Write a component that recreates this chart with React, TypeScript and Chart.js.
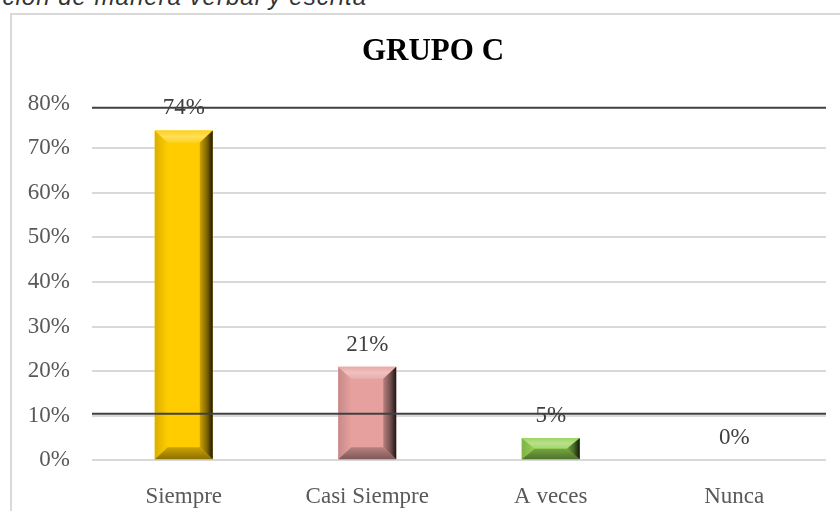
import React, { useEffect, useRef } from "react";
import { Chart, registerables } from "chart.js";
Chart.register(...registerables);

const categories = ["Siempre", "Casi Siempre", "A veces", "Nunca"];
const values = [0.74, 0.21, 0.05, 0];
const barColors = ["#FFCC00", "#E6A09E", "#92D050", "#A5A5A5"];
const yMin = 0;
const yMax = 0.8;
const yStep = 0.1;
const overlayLines = [0.791, 0.1045];
const titleText = "GRUPO C";
const captionText = "ción de manera verbal y escrita";

const SERIF = "'Liberation Serif', 'Times New Roman', serif";

function hexToRgb(h: string) {
  const n = parseInt(h.slice(1), 16);
  return [(n >> 16) & 255, (n >> 8) & 255, n & 255];
}
function mix(h: string, target: number, t: number) {
  const c = hexToRgb(h).map((v) => Math.round(v + (target - v) * t));
  return `rgb(${c[0]},${c[1]},${c[2]})`;
}

const bevelPlugin = {
  id: "bevel",
  afterDatasetsDraw(chart: any) {
    const ctx = chart.ctx;
    const meta = chart.getDatasetMeta(0);
    meta.data.forEach((el: any, i: number) => {
      const { x, y, base, width } = el.getProps(["x", "y", "base", "width"], true);
      const l = x - width / 2;
      const r = x + width / 2;
      const t = Math.min(y, base);
      const b = Math.max(y, base);
      const h = b - t;
      if (h <= 0.5) return;
      const col = barColors[i % barColors.length];
      const bv = Math.min(12, h / 2);
      const bh = Math.min(13, width / 2);
      ctx.save();
      // left face
      ctx.beginPath();
      ctx.moveTo(l, t);
      ctx.lineTo(l + bh, t + bv);
      ctx.lineTo(l + bh, b - bv);
      ctx.lineTo(l, b);
      ctx.closePath();
      let g = ctx.createLinearGradient(l, 0, l + bh, 0);
      g.addColorStop(0, mix(col, 0, 0.14));
      g.addColorStop(1, col);
      ctx.fillStyle = g;
      ctx.fill();
      // top face
      ctx.beginPath();
      ctx.moveTo(l, t);
      ctx.lineTo(r, t);
      ctx.lineTo(r - bh, t + bv);
      ctx.lineTo(l + bh, t + bv);
      ctx.closePath();
      g = ctx.createLinearGradient(0, t, 0, t + bv);
      g.addColorStop(0, mix(col, 255, 0.1));
      g.addColorStop(0.5, mix(col, 255, 0.35));
      g.addColorStop(1, mix(col, 255, 0.15));
      ctx.fillStyle = g;
      ctx.fill();
      // bottom face
      ctx.beginPath();
      ctx.moveTo(l, b);
      ctx.lineTo(r, b);
      ctx.lineTo(r - bh, b - bv);
      ctx.lineTo(l + bh, b - bv);
      ctx.closePath();
      g = ctx.createLinearGradient(0, b - bv, 0, b);
      g.addColorStop(0, mix(col, 0, 0.2));
      g.addColorStop(1, mix(col, 0, 0.45));
      ctx.fillStyle = g;
      ctx.fill();
      // right face
      ctx.beginPath();
      ctx.moveTo(r, t);
      ctx.lineTo(r, b);
      ctx.lineTo(r - bh, b - bv);
      ctx.lineTo(r - bh, t + bv);
      ctx.closePath();
      g = ctx.createLinearGradient(r - bh, 0, r, 0);
      g.addColorStop(0, mix(col, 0, 0.2));
      g.addColorStop(0.55, mix(col, 0, 0.5));
      g.addColorStop(1, mix(col, 0, 0.88));
      ctx.fillStyle = g;
      ctx.fill();
      ctx.restore();
    });
  },
};

const overlayPlugin = {
  id: "overlayLines",
  afterDatasetsDraw(chart: any) {
    const ctx = chart.ctx;
    const ys = chart.scales.y;
    const { left, right } = chart.chartArea;
    ctx.save();
    ctx.strokeStyle = "#404040";
    ctx.lineWidth = 2;
    overlayLines.forEach((v) => {
      const py = ys.getPixelForValue(v);
      ctx.beginPath();
      ctx.moveTo(left, py);
      ctx.lineTo(right, py);
      ctx.stroke();
    });
    ctx.restore();
  },
};

const labelPlugin = {
  id: "valueLabels",
  afterDraw(chart: any) {
    const ctx = chart.ctx;
    const meta = chart.getDatasetMeta(0);
    ctx.save();
    ctx.font = `23px ${SERIF}`;
    ctx.fillStyle = "#404040";
    ctx.textAlign = "center";
    ctx.textBaseline = "alphabetic";
    meta.data.forEach((el: any, i: number) => {
      const { x, y } = el.getProps(["x", "y"], true);
      ctx.fillText(Math.round(values[i] * 100) + "%", x, y - 16);
    });
    // title, centred on the whole chart box
    ctx.font = `bold 31px ${SERIF}`;
    ctx.fillStyle = "#000000";
    ctx.textBaseline = "middle";
    ctx.fillText(titleText, chart.width / 2, 39);
    ctx.restore();
  },
};

export default function App() {
  const ref = useRef<HTMLCanvasElement | null>(null);
  useEffect(() => {
    if (!ref.current) return;
    const chart = new Chart(ref.current, {
      type: "bar",
      data: {
        labels: categories,
        datasets: [
          {
            data: values,
            backgroundColor: barColors,
            borderWidth: 0,
            categoryPercentage: 1,
            barPercentage: 0.316,
          },
        ],
      },
      options: {
        animation: false,
        responsive: false,
        devicePixelRatio: 1,
        layout: { padding: { left: 0, right: 29, top: 90.7, bottom: 0 } },
        plugins: {
          legend: { display: false },
          tooltip: { enabled: false },
          title: { display: false },
        },
        scales: {
          x: {
            grid: { display: false },
            border: { display: false },
            ticks: {
              color: "#595959",
              font: { family: SERIF, size: 23 },
              padding: 15,
              maxRotation: 0,
              autoSkip: false,
            },
            afterFit(s: any) {
              s.height = 62.7;
            },
          },
          y: {
            min: yMin,
            max: yMax,
            border: { display: false },
            grid: {
              drawTicks: false,
              lineWidth: 2,
              color: (c: any) =>
                c.tick && c.tick.value >= yMax - 1e-9 ? "rgba(0,0,0,0)" : "#d9d9d9",
            },
            ticks: {
              stepSize: yStep,
              color: "#595959",
              font: { family: SERIF, size: 23 },
              padding: 22,
              callback: (_v: any, i: number, ticks: any[]) =>
                Math.round(ticks[i].value * 100) + "%",
            },
            afterFit(s: any) {
              s.width = 81;
            },
          },
        },
      },
      plugins: [bevelPlugin, overlayPlugin, labelPlugin],
    } as any);
    return () => chart.destroy();
  }, []);

  return (
    <div
      style={{
        position: "fixed",
        left: 0,
        top: 0,
        width: 840,
        height: 511,
        overflow: "hidden",
        background: "#ffffff",
      }}
    >
      <span
        style={{
          position: "absolute",
          right: 473,
          top: -15,
          fontFamily: "'Liberation Sans', Arial, sans-serif",
          fontStyle: "italic",
          fontSize: 24,
          lineHeight: "24px",
          letterSpacing: "1px",
          color: "#333333",
          whiteSpace: "nowrap",
        }}
      >
        {captionText}
      </span>
      <canvas
        ref={ref}
        width={844}
        height={510}
        style={{ position: "absolute", left: 11, top: 13, display: "block" }}
      />
      <div
        style={{
          position: "absolute",
          left: 10,
          top: 13,
          width: 900,
          height: 600,
          borderTop: "2px solid #d9d9d9",
          borderLeft: "2px solid #d9d9d9",
          pointerEvents: "none",
        }}
      />
    </div>
  );
}
